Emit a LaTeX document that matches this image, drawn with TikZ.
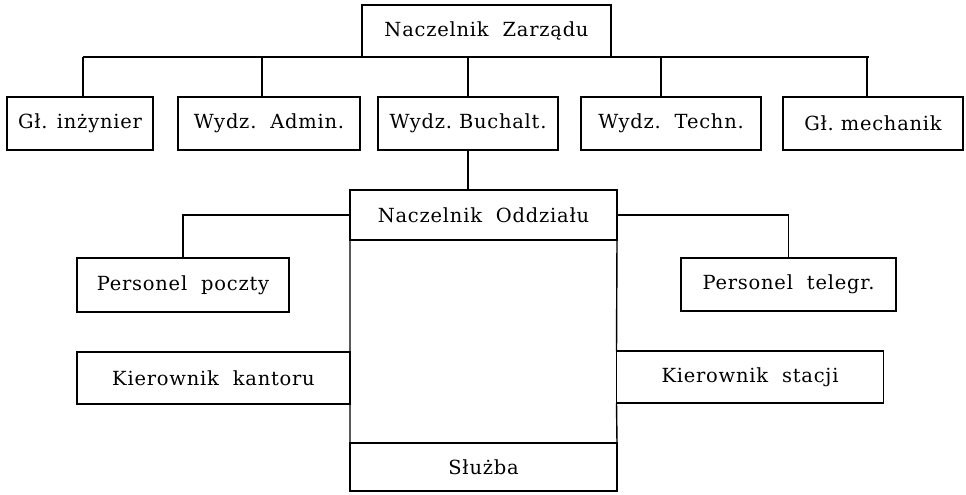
\documentclass[tikz,border=0pt]{standalone}
\usepackage{fontspec}
\setmainfont{DejaVu Serif}[LetterSpace=4]
\usepackage{tikz}
\usetikzlibrary{calc}

\newdimen\unitpx
\unitpx=0.15mm

\begin{document}
\begin{tikzpicture}[
    x=0.15mm, y=-0.15mm,
    line width=0.6pt,
    office/.style={rectangle, draw, inner sep=0pt, outer sep=0pt, minimum height=52\unitpx, font=\fontsize{8.3}{10}\selectfont},
    link/.style={line width=0.6pt}
]
\useasboundingbox (0,0) rectangle (966,495);

% Top level
\node[office, minimum width=249\unitpx] (zarzad) at (486.5,31) {Naczelnik\ \ Zarządu};

% Departments
\node[office, minimum width=146\unitpx, minimum height=53\unitpx] (inzynier) at (80,123.5) {Gł. inżynier};
\node[office, minimum width=182\unitpx, minimum height=53\unitpx] (admin) at (269,123.5) {Wydz.\ \ Admin.};
\node[office, minimum width=180\unitpx, minimum height=53\unitpx] (buchalt) at (468,123.5) {Wydz.\ Buchalt.};
\node[office, minimum width=180\unitpx, minimum height=53\unitpx] (techn) at (671,123.5) {Wydz.\ \ Techn.};
\node[office, minimum width=180\unitpx, minimum height=53\unitpx] (mechanik) at (873,123.5) {Gł.\ mechanik};

% Branch office
\node[office, minimum width=267\unitpx, minimum height=50\unitpx] (oddzial) at (483.5,215) {Naczelnik\ \ Oddziału};
\node[office, minimum width=212\unitpx, minimum height=54\unitpx] (poczta) at (183,285) {Personel\ \ poczty};
\node[office, minimum width=215\unitpx, minimum height=53\unitpx] (telegr) at (788.5,284.5) {Personel\ \ telegr.};
\node[office, minimum width=273\unitpx] (kantor) at (213.5,378) {Kierownik\ \ kantoru};
\node[office, minimum width=267\unitpx] (stacja) at (750,377) {Kierownik\ \ stacji};
\node[office, minimum width=267\unitpx, minimum height=48\unitpx] (sluzba) at (483.5,467) {Służba};

% Bus under the top box
\draw[link] ([xshift=3\unitpx]inzynier.north |- zarzad.south) -- ([xshift=-4\unitpx]mechanik.north |- zarzad.south);
\foreach \n/\dx in {inzynier/3, admin/-7, buchalt/0, techn/-10, mechanik/-6}
    \draw[link] ([xshift=\dx\unitpx]\n.north |- zarzad.south) -- ([xshift=\dx\unitpx]\n.north);

% Department to branch
\draw[link] (buchalt.south) -- (buchalt.south |- oddzial.north);

% Branch links
\draw[link] (oddzial.west) -| (poczta.north);
\draw[link] (oddzial.east) -| (telegr.north);
\draw[link] (oddzial.south west) -- (kantor.north east);
\draw[link] (oddzial.south east) -- (stacja.north west);
\draw[link] (kantor.south east) -- (sluzba.north west);
\draw[link] (stacja.south west) -- (sluzba.north east);

\end{tikzpicture}
\end{document}
